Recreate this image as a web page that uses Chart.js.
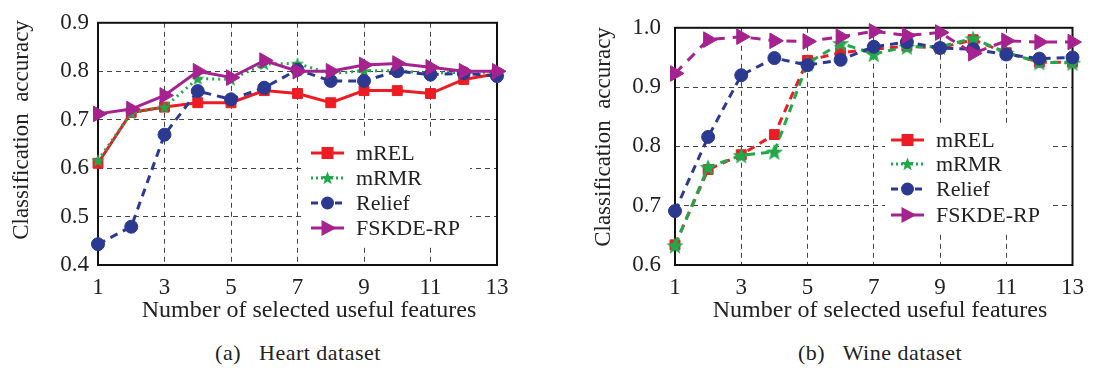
<!DOCTYPE html>
<html>
<head>
<meta charset="utf-8">
<script src="https://cdn.jsdelivr.net/npm/chart.js@4.4.0/dist/chart.umd.min.js"></script>
<style>
  body { margin: 0; background: #fff; width: 1093px; height: 368px; position: relative; overflow: hidden; font-family: "Liberation Serif", serif; color: #222; }
  .box { position: absolute; top: 0; }
  .cap { position: absolute; top: 340px; font-size: 22px; letter-spacing: 0.5px; white-space: pre; transform: translateX(-50%); }
</style>
</head>
<body>
<div class="box" style="left:0;width:520px;height:335px"><canvas id="heart" width="520" height="335"></canvas></div>
<div class="box" style="left:585px;width:508px;height:335px"><canvas id="wine" width="508" height="335"></canvas></div>
<div class="cap" style="left:298px">(a)   Heart dataset</div>
<div class="cap" style="left:880px">(b)   Wine dataset</div>
<script>
// number of selected features
const features = [1, 2, 3, 4, 5, 6, 7, 8, 9, 10, 11, 12, 13];
const seriesNames = ["mREL", "mRMR", "Relief", "FSKDE-RP"];

// Heart dataset
const heartMREL   = [0.610, 0.715, 0.726, 0.735, 0.735, 0.760, 0.754, 0.735, 0.760, 0.760, 0.754, 0.783, 0.795];
const heartMRMR   = [0.616, 0.714, 0.726, 0.785, 0.783, 0.815, 0.816, 0.795, 0.801, 0.801, 0.796, 0.798, 0.798];
const heartRelief = [0.443, 0.479, 0.669, 0.759, 0.742, 0.766, 0.803, 0.780, 0.780, 0.800, 0.793, 0.796, 0.790];
const heartFSKDE  = [0.712, 0.722, 0.750, 0.800, 0.787, 0.822, 0.800, 0.800, 0.813, 0.816, 0.808, 0.800, 0.800];

// Wine dataset
const wineMREL   = [0.634, 0.761, 0.786, 0.820, 0.945, 0.958, 0.964, 0.969, 0.966, 0.980, 0.958, 0.942, 0.942];
const wineMRMR   = [0.633, 0.765, 0.785, 0.791, 0.940, 0.974, 0.956, 0.968, 0.968, 0.982, 0.958, 0.942, 0.941];
const wineRelief = [0.691, 0.816, 0.920, 0.949, 0.937, 0.946, 0.968, 0.976, 0.966, 0.964, 0.955, 0.948, 0.950];
const wineFSKDE  = [0.923, 0.980, 0.985, 0.978, 0.977, 0.985, 0.994, 0.987, 0.992, 0.957, 0.978, 0.976, 0.976];

const xTitle = "Number of selected useful features";
const yTitle = "Classification  accuracy";

const RED = "#ED1C24", GREEN = "#22A84A", BLUE = "#2B3990", MAGENTA = "#A5228F";
const FONT = "Liberation Serif";

function starPath(ctx, cx, cy, r) {
  ctx.beginPath();
  for (let i = 0; i < 10; i++) {
    const rr = i % 2 ? r * 0.42 : r;
    const a = -Math.PI / 2 + i * Math.PI / 5;
    ctx.lineTo(cx + rr * Math.cos(a), cy + rr * Math.sin(a));
  }
  ctx.closePath();
}

function starImage(r) {
  const c = document.createElement("canvas");
  c.width = c.height = Math.ceil(r * 2 + 2);
  const g = c.getContext("2d");
  g.fillStyle = GREEN;
  starPath(g, c.width / 2, c.height / 2 + r * 0.1, r);
  g.fill();
  return c;
}

// frame around the plot area
const framePlugin = {
  id: "frame",
  beforeDatasetsDraw(chart) {
    const a = chart.chartArea, ctx = chart.ctx;
    ctx.save();
    ctx.strokeStyle = "#111";
    ctx.lineWidth = 2;
    ctx.strokeRect(a.left, a.top, a.right - a.left, a.bottom - a.top);
    ctx.restore();
  }
};

// axis titles placed where the original has them (slightly off-centre)
const titlesPlugin = {
  id: "titles",
  afterDraw(chart, args, opts) {
    const ctx = chart.ctx;
    ctx.save();
    ctx.fillStyle = "#222";
    ctx.textAlign = "center";
    ctx.textBaseline = "middle";
    ctx.font = "24px '" + FONT + "'";
    ctx.fillText(xTitle, opts.xx, opts.xy);
    ctx.translate(opts.yx, opts.yy);
    ctx.rotate(-Math.PI / 2);
    ctx.font = "23px '" + FONT + "'";
    ctx.fillText(yTitle, 0, 0);
    ctx.restore();
  }
};

// legend with line + marker, white box
const lineLegend = {
  id: "lineLegend",
  afterDatasetsDraw(chart, args, opts) {
    const ctx = chart.ctx;
    ctx.save();
    ctx.fillStyle = "#fff";
    ctx.fillRect(opts.x, opts.y, opts.w, opts.h);
    const styles = [
      { c: RED, dash: [], mark: "rect" },
      { c: GREEN, dash: [2, 3], mark: "star" },
      { c: BLUE, dash: [7, 5], mark: "circle" },
      { c: MAGENTA, dash: [], mark: "tri" }
    ];
    styles.forEach((s, i) => {
      const y = opts.rowY[i];
      const x0 = opts.x + 6, x1 = x0 + 33, cx = (x0 + x1) / 2;
      ctx.strokeStyle = s.c;
      ctx.fillStyle = s.c;
      ctx.lineWidth = 3;
      ctx.setLineDash(s.dash);
      ctx.beginPath(); ctx.moveTo(x0, y); ctx.lineTo(x1, y); ctx.stroke();
      ctx.setLineDash([]);
      if (s.mark === "rect") ctx.fillRect(cx - 6, y - 6, 12, 12);
      if (s.mark === "star") { starPath(ctx, cx, y + 0.5, 7); ctx.fill(); }
      if (s.mark === "circle") { ctx.beginPath(); ctx.arc(cx, y, 6.5, 0, Math.PI * 2); ctx.fill(); }
      if (s.mark === "tri") { ctx.beginPath(); ctx.moveTo(cx - 6, y - 8); ctx.lineTo(cx + 9, y); ctx.lineTo(cx - 6, y + 8); ctx.closePath(); ctx.fill(); }
      ctx.fillStyle = "#222";
      ctx.font = "22px '" + FONT + "'";
      ctx.textBaseline = "middle";
      ctx.fillText(seriesNames[i], x1 + 12, y + 1);
    });
    ctx.restore();
  }
};

function makeChart(id, data, yMin, yMax, dashes, layout) {
  const pts = arr => features.map((f, i) => ({ x: f, y: arr[i] }));
  const star = starImage(layout.star);
  const common = { tension: 0, borderWidth: 3, pointBorderWidth: 1, clip: false, fill: false };
  new Chart(document.getElementById(id), {
    type: "line",
    data: {
      datasets: [
        Object.assign({ label: seriesNames[0], data: pts(data[0]), borderColor: RED, backgroundColor: RED,
          borderDash: dashes[0], pointStyle: "rect", pointRadius: 7, order: 3 }, common),
        Object.assign({ label: seriesNames[1], data: pts(data[1]), borderColor: GREEN, backgroundColor: GREEN,
          borderDash: dashes[1], pointStyle: star, order: 2 }, common),
        Object.assign({ label: seriesNames[2], data: pts(data[2]), borderColor: BLUE, backgroundColor: BLUE,
          borderDash: dashes[2], pointStyle: "circle", pointRadius: 6.5, order: 1 }, common),
        Object.assign({ label: seriesNames[3], data: pts(data[3]), borderColor: MAGENTA, backgroundColor: MAGENTA,
          borderDash: dashes[3], pointStyle: "triangle", pointRotation: 90, pointRadius: 9, order: 0 }, common)
      ]
    },
    options: {
      responsive: false,
      animation: false,
      layout: { padding: { left: 0, right: layout.right, top: layout.top, bottom: 0 } },
      plugins: {
        legend: { display: false },
        tooltip: { enabled: false },
        lineLegend: layout.legend,
        titles: layout.titles
      },
      scales: {
        x: {
          type: "linear", min: 1, max: 13,
          afterFit(s) { s.height = 70; },
          ticks: { stepSize: 2, color: "#222", padding: 9, font: { family: FONT, size: 23 } },
          grid: { color: "#444", lineWidth: 1, drawTicks: false },
          border: { display: false, dash: [5, 4] }
        },
        y: {
          min: yMin, max: yMax,
          afterFit(s) { s.width = layout.yWidth; },
          ticks: { stepSize: 0.1, color: "#222", padding: layout.tickPad, font: { family: FONT, size: 23 },
            callback: v => v.toFixed(1) },
          grid: { color: "#444", lineWidth: 1, drawTicks: false },
          border: { display: false, dash: [5, 4] }
        }
      }
    },
    plugins: [framePlugin, lineLegend, titlesPlugin]
  });
}

makeChart("heart", [heartMREL, heartMRMR, heartRelief, heartFSKDE], 0.4, 0.9,
  [[], [2, 4], [8, 6], []],
  { right: 23, top: 18, yWidth: 98, tickPad: 9, star: 7,
    titles: { xx: 309, xy: 311, yx: 22, yy: 130 },
    legend: { x: 305, y: 138, w: 165, h: 106, rowY: [153, 178, 203, 228] } });

makeChart("wine", [wineMREL, wineMRMR, wineRelief, wineFSKDE], 0.6, 1.0,
  [[8, 6], [8, 6], [8, 6], [10, 8]],
  { right: 20, top: 16, yWidth: 90, tickPad: 14, star: 9,
    titles: { xx: 295, xy: 311, yx: 19, yy: 137 },
    legend: { x: 300, y: 124, w: 165, h: 108, rowY: [140, 164, 189, 215] } });
</script>
</body>
</html>
